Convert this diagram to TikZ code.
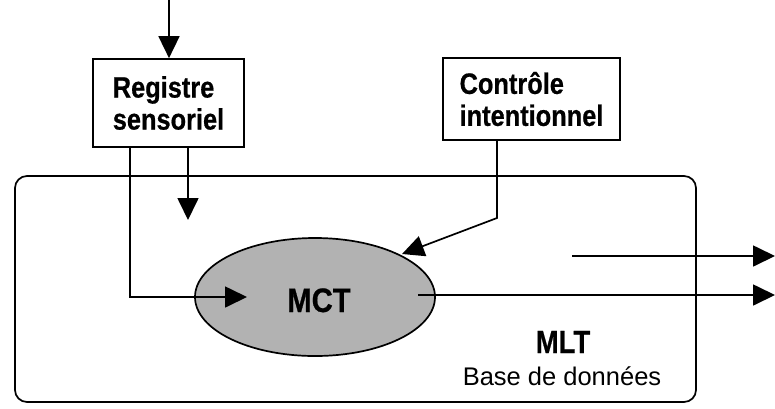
\documentclass[tikz,border=0pt]{standalone}
\usepackage{fontspec}
\setmainfont{Liberation Sans}
\newfontfamily\boxfont{Liberation Sans}[FakeStretch=0.86,FakeBold=0.6]
\usetikzlibrary{arrows.meta,shapes.geometric,calc}
\definecolor{mctgray}{RGB}{178,178,178}
\tikzset{
  conn/.style={line width=1.7pt},
  arr/.style={conn,-{Triangle[length=22pt,width=21pt]}},
  labelbox/.style={draw,line width=1.7pt,inner sep=0pt,align=left,
    font=\boxfont\bfseries\fontsize{29.5}{32}\selectfont},
  memory/.style={draw,line width=1.7pt,inner sep=0pt}
}
\begin{document}
\begin{tikzpicture}[x=1pt,y=-1pt]
\useasboundingbox (0,0) rectangle (775,408);

% long-term memory frame
\node[memory,rounded corners=12pt,minimum width=681pt,minimum height=226pt]
  (mlt) at (355.5,289) {};

% short-term memory
\node[memory,ellipse,fill=mctgray,minimum width=240pt,minimum height=118pt]
  (mct) at (315,297) {};
\node[anchor=base,font=\boxfont\bfseries\fontsize{34}{36}\selectfont] (mctlbl) at (319,312) {MCT};

% labels of the long-term memory
\node[anchor=base,font=\boxfont\bfseries\fontsize{32}{34}\selectfont] (mltlbl) at (563,353) {MLT};
\node[anchor=base,font=\fontsize{25.5}{30}\selectfont] (bdd) at (562,385) {Base de données};

% input boxes
\node[labelbox,minimum width=151pt,minimum height=88pt] (reg) at (168.5,103)
  {Registre\\sensoriel};
\node[labelbox,minimum width=177pt,minimum height=82pt] (ctl) at (531.5,99)
  {Contrôle\\intentionnel};

% free ends of the connectors
\coordinate (in) at (169,0);
\coordinate (mctin) at (247,297);
\coordinate (down) at (188,220);
\coordinate (ctlbend) at (497,218);
\coordinate (mctctl) at (402,254);
\coordinate (out1a) at (572,256);
\coordinate (out1b) at (775,256);
\coordinate (out2a) at (418,295);
\coordinate (out2b) at (775,295);

% connectors
\draw[arr] (in) -- (in |- reg.north);
\draw[arr] ($(reg.south west)!0.25!(reg.south east)$) |- (mctin);
\draw[arr] (down |- reg.south) -- (down);
\draw[arr] (ctlbend |- ctl.south) -- (ctlbend) -- (mctctl);
\draw[arr] (out1a) -- (out1b);
\draw[arr] (out2a) -- (out2b);
\end{tikzpicture}
\end{document}
